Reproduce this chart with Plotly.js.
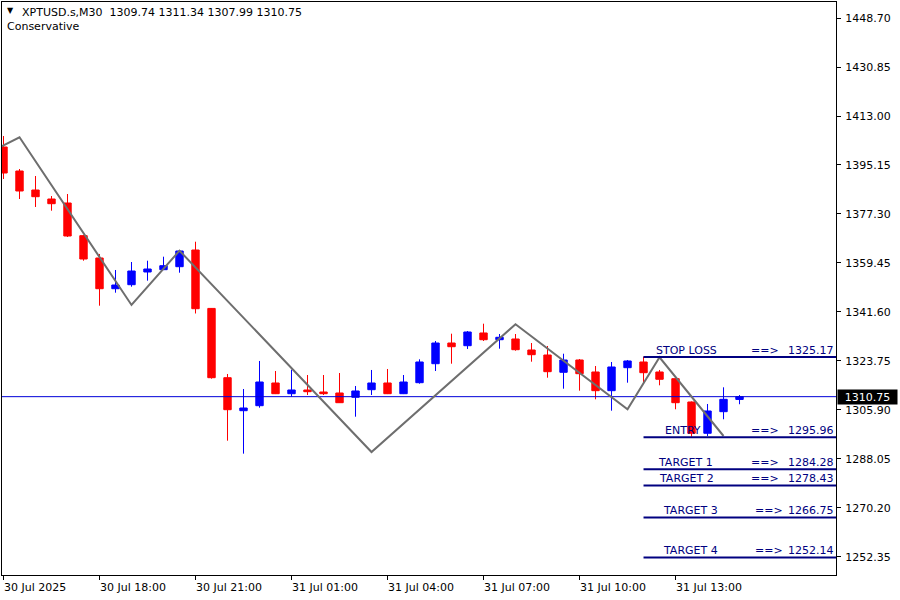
<!DOCTYPE html>
<html><head><meta charset="utf-8">
<script src="https://cdn.plot.ly/plotly-3.0.1.min.js"></script>
<style>html,body{margin:0;padding:0;background:#fff}#chart{width:900px;height:600px}</style>
</head><body><div id="chart"></div>
<script>
// ---------- DATA ----------
const symbolInfo = "XPTUSD.s,M30";
const headerOHLC = ["1309.74", "1311.34", "1307.99", "1310.75"];
const indicatorName = "Conservative";

const barIndex = [0,1,2,3,4,5,6,7,8,9,10,11,12,13,14,15,16,17,18,19,20,21,22,23,24,25,26,27,28,29,30,31,32,33,34,35,36,37,38,39,40,41,42,43,44,45,46];
const opens  = [1401.71,1392.96,1386.04,1382.76,1381.30,1369.40,1361.27,1350.08,1351.54,1356.17,1357.01,1358.10,1364.18,1342.90,1317.66,1305.64,1307.46,1315.73,1311.83,1313.18,1312.45,1312.09,1310.52,1313.29,1315.73,1311.83,1315.84,1322.76,1330.30,1329.32,1333.95,1331.50,1331.76,1327.75,1325.93,1319.63,1324.11,1319.74,1312.93,1321.31,1323.38,1319.74,1317.30,1308.81,1297.41,1305.28,1309.74];
const highs  = [1405.71,1393.69,1391.14,1383.85,1384.58,1369.65,1362.73,1356.90,1359.81,1360.28,1361.74,1364.18,1367.20,1343.05,1319.01,1313.54,1323.75,1320.10,1320.58,1318.64,1318.64,1319.37,1314.64,1320.47,1320.83,1318.64,1324.36,1331.03,1333.69,1334.67,1337.33,1333.58,1333.58,1330.30,1329.21,1326.40,1324.47,1321.92,1323.38,1324.11,1325.31,1320.47,1317.50,1309.00,1308.08,1314.16,1311.34];
const lows   = [1390.05,1382.76,1379.85,1378.50,1368.92,1360.28,1343.89,1348.63,1350.81,1353.00,1356.90,1355.91,1341.05,1317.30,1294.71,1289.98,1306.73,1311.70,1310.74,1311.36,1311.36,1308.45,1303.45,1311.36,1311.70,1311.70,1315.48,1320.10,1322.76,1328.12,1331.03,1328.23,1327.50,1323.49,1317.66,1313.65,1312.93,1309.79,1305.64,1315.84,1315.84,1314.89,1306.15,1296.17,1296.42,1302.51,1307.99];
const closes = [1392.23,1385.68,1383.60,1381.05,1369.28,1360.90,1350.08,1351.43,1356.53,1357.26,1358.46,1363.82,1342.80,1317.66,1306.00,1306.62,1316.09,1311.83,1313.18,1312.56,1311.83,1308.55,1312.82,1315.73,1311.83,1316.09,1323.38,1330.30,1328.95,1334.31,1331.50,1332.38,1327.86,1326.04,1319.85,1324.11,1319.12,1312.93,1321.56,1323.75,1319.48,1317.08,1308.55,1297.41,1305.53,1309.79,1310.75];

const zigzagIndex = [-1, 1, 8, 11, 23, 32, 39, 41, 45];
const zigzagPrice = [1399.3, 1405.24, 1344.15, 1363.93, 1290.59, 1337.12, 1306.15, 1325.09, 1296.42];

const levelNames  = ["STOP LOSS", "ENTRY", "TARGET 1", "TARGET 2", "TARGET 3", "TARGET 4"];
const levelPrices = [1325.17, 1295.96, 1284.28, 1278.43, 1266.75, 1252.14];
const levelLabels = ["1325.17", "1295.96", "1284.28", "1278.43", "1266.75", "1252.14"];
const levelStartBar = 40;

const currentPrice = 1310.75;
const currentPriceText = "1310.75";

const priceTicks = [1448.70,1430.85,1413.00,1395.15,1377.30,1359.45,1341.60,1323.75,1305.90,1288.05,1270.20,1252.35];
const priceTickText = ["1448.70","1430.85","1413.00","1395.15","1377.30","1359.45","1341.60","1323.75","1305.90","1288.05","1270.20","1252.35"];

const timeTickIndex = [0, 6, 12, 18, 24, 30, 36, 42];
const timeTickText = ["30 Jul 2025","30 Jul 18:00","30 Jul 21:00","31 Jul 01:00","31 Jul 04:00","31 Jul 07:00","31 Jul 10:00","31 Jul 13:00"];

// ---------- STYLE / LAYOUT ----------
const FONT = "DejaVu Sans";
const ML = 2, MR = 64, MT = 2, MB = 25, W = 900, H = 600;
const PW = W - ML - MR, PH = H - MT - MB;
const px2paperX = p => (p - ML) / PW;
const py2paperY = p => 1 - (p - MT) / PH;
const nameCenterPx = [686, 683, 685.5, 686, 690, 690];
const arrowLeftPx  = [751, 751, 751, 751, 755, 755];
const LEVEL_COLOR = "#000080";

const traces = [];
traces.push({
  type: "scatter", mode: "lines", x: [-2, 60], y: [currentPrice, currentPrice],
  line: {color: "#0000D8", width: 1}, hoverinfo: "skip", showlegend: false
});
traces.push({
  type: "candlestick", x: barIndex, open: opens, high: highs, low: lows, close: closes,
  increasing: {line: {color: "#0000FF", width: 1}, fillcolor: "#0000FF"},
  decreasing: {line: {color: "#FF0000", width: 1}, fillcolor: "#FF0000"},
  whiskerwidth: 0, hoverinfo: "none", showlegend: false
});
traces.push({
  type: "scatter", mode: "lines", x: zigzagIndex, y: zigzagPrice,
  line: {color: "#6E6E6E", width: 2}, hoverinfo: "skip", showlegend: false
});
levelPrices.forEach(v => {
  traces.push({
    type: "scatter", mode: "lines", x: [levelStartBar, 60], y: [v, v],
    line: {color: LEVEL_COLOR, width: 2}, hoverinfo: "skip", showlegend: false
  });
});

const annotations = [];
// header
annotations.push({xref: "paper", yref: "paper", x: px2paperX(5), y: py2paperY(11), xanchor: "left", yanchor: "middle",
  text: "▼", showarrow: false, font: {family: FONT, size: 8, color: "#000"}});
annotations.push({xref: "paper", yref: "paper", x: px2paperX(20), y: py2paperY(12.5), xanchor: "left", yanchor: "middle",
  text: symbolInfo + "&nbsp;&nbsp;" + headerOHLC.join(" "), showarrow: false, font: {family: FONT, size: 11, color: "#000"}});
annotations.push({xref: "paper", yref: "paper", x: px2paperX(5), y: py2paperY(26), xanchor: "left", yanchor: "middle",
  text: indicatorName, showarrow: false, font: {family: FONT, size: 11, color: "#000"}});
// time labels
timeTickIndex.forEach((b, i) => {
  annotations.push({xref: "x", yref: "paper", x: b, y: 0, xanchor: "left", yanchor: "top", xshift: -2, yshift: -4,
    text: timeTickText[i], showarrow: false, font: {family: FONT, size: 11, color: "#000"}});
});
// level labels
levelPrices.forEach((v, i) => {
  annotations.push({xref: "paper", yref: "y", x: px2paperX(nameCenterPx[i]), y: v, xanchor: "center", yanchor: "middle", yshift: 7,
    text: levelNames[i], showarrow: false, font: {family: FONT, size: 11, color: LEVEL_COLOR}});
  annotations.push({xref: "paper", yref: "y", x: px2paperX(arrowLeftPx[i]), y: v, xanchor: "left", yanchor: "middle", yshift: 7, xshift: -2,
    text: "==&gt;", showarrow: false, font: {family: FONT, size: 11, color: LEVEL_COLOR}});
  annotations.push({xref: "paper", yref: "y", x: px2paperX(835), y: v, xanchor: "right", yanchor: "middle", yshift: 7, xshift: 1,
    text: levelLabels[i], showarrow: false, font: {family: FONT, size: 11, color: LEVEL_COLOR}});
});
// current price tag
annotations.push({xref: "paper", yref: "y", x: 1, y: currentPrice, xanchor: "left", yanchor: "middle", xshift: 1,
  width: 59, height: 14, align: "center", bgcolor: "#000", borderpad: 0,
  text: currentPriceText, showarrow: false, font: {family: FONT, size: 11, color: "#FFF"}});

const y0 = priceTicks[0] + (MT + 0 - 18) / 2.745 * -1;
const layout = {
  width: W, height: H,
  margin: {l: ML, r: MR, t: MT, b: MB, pad: 0},
  paper_bgcolor: "#FFFFFF", plot_bgcolor: "#FFFFFF",
  showlegend: false, boxgap: 0.34,
  font: {family: FONT, size: 11, color: "#000"},
  xaxis: {
    range: [-0.094, 52.03], rangeslider: {visible: false},
    tickvals: timeTickIndex, showticklabels: false,
    ticks: "outside", ticklen: 4, tickcolor: "#000", tickwidth: 1,
    showgrid: false, zeroline: false, showline: true, linecolor: "#000", linewidth: 1, mirror: true,
    fixedrange: true
  },
  yaxis: {
    side: "right", range: [1245.78, 1454.53],
    tickvals: priceTicks, ticktext: priceTickText,
    ticks: "outside", ticklen: 4, tickcolor: "#000", tickwidth: 1,
    ticklabelstandoff: 2,
    tickfont: {family: FONT, size: 11, color: "#000"},
    showgrid: false, zeroline: false, showline: true, linecolor: "#000", linewidth: 1, mirror: true,
    fixedrange: true
  },
  annotations: annotations
};

Plotly.newPlot("chart", traces, layout, {staticPlot: true, displayModeBar: false});
</script>
</body></html>
